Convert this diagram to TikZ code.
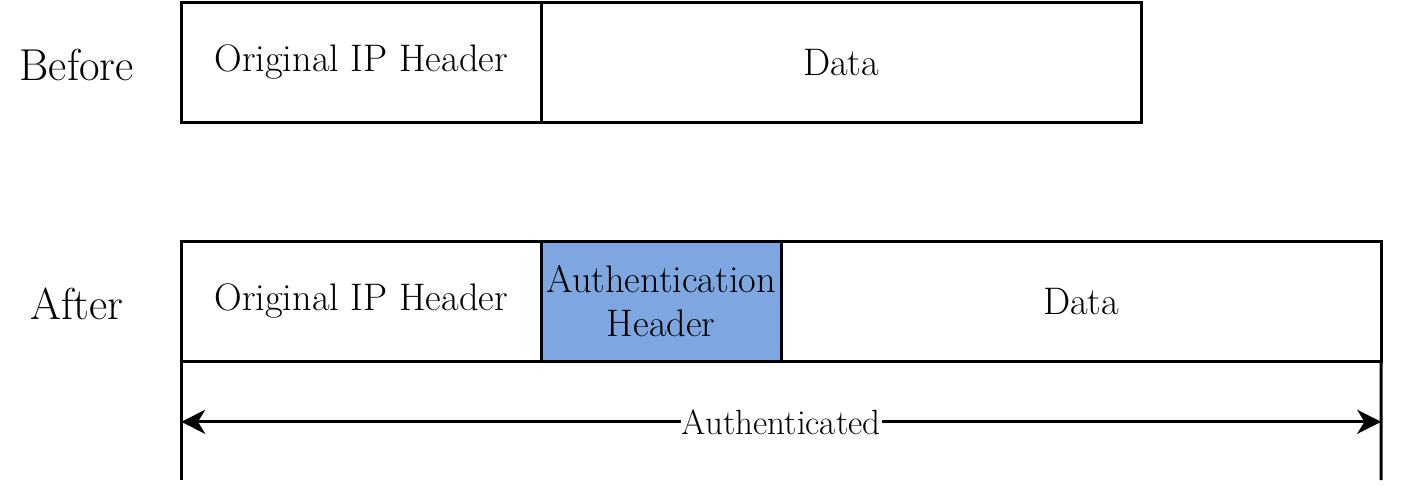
\documentclass[tikz,border=0pt]{standalone}
\usepackage{tikz}
\usetikzlibrary{arrows.meta}
\definecolor{ahblue}{HTML}{7EA6E0}
\tikzset{
  felt/.style={draw, line width=1.4pt, minimum height=2cm, inner sep=0pt, outer sep=0pt, align=center, anchor=north west, font=\fontsize{18.2}{21}\selectfont},
  rad/.style={font=\fontsize{21.2}{24}\selectfont}
}

\begin{document}
\begin{tikzpicture}
\useasboundingbox (0,0) rectangle (23.5,-8.1);
% pakke foer
\node[rad] (before) at (1.28,-1.08) {Before};
\node[felt, minimum width=6cm] (ipA) at (3.02,-0.04) {Original IP Header};
\node[felt, minimum width=10cm] (dataA) at (ipA.north east) {Data};
% pakke etter
\node[rad] (after) at (1.28,-5.07) {After};
\node[felt, minimum width=6cm] (ipB) at (3.02,-4.02) {Original IP Header};
\node[felt, minimum width=4cm, fill=ahblue] (ahB) at (ipB.north east) {Authentication\\Header};
\node[felt, minimum width=10cm] (dataB) at (ahB.north east) {Data};
% autentisert omraade
\coordinate (vl) at (3.02,-8);
\coordinate (vr) at (23.02,-8);
\draw[line width=1.4pt] (ipB.south west) -- (vl);
\draw[line width=1.4pt] (dataB.south east) -- (vr);
\coordinate (al) at (3.02,-7.03);
\coordinate (ar) at (23.02,-7.03);
\draw[line width=1.4pt, {Stealth[length=0.4cm, width=0.4cm, inset=0.12cm]}-{Stealth[length=0.4cm, width=0.4cm, inset=0.12cm]}] (al) -- (ar) node[midway, fill=white, inner sep=0.5pt, font=\fontsize{16.6}{19.5}\selectfont] (auth) {Authenticated};
\end{tikzpicture}
\end{document}
